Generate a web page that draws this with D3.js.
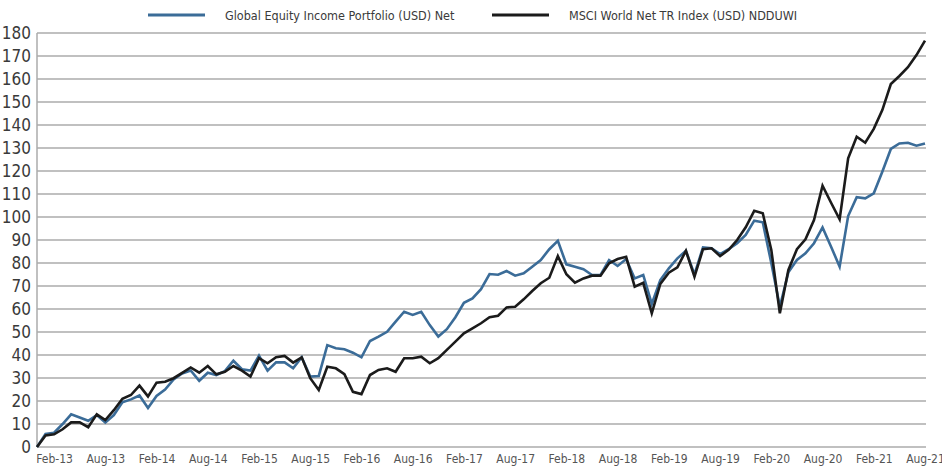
<!DOCTYPE html>
<html>
<head>
<meta charset="utf-8">
<script src="https://cdn.jsdelivr.net/npm/d3@7"></script>
<style>
  body { margin: 0; background: #fff; }
  svg text { font-family: "Liberation Sans Narrow", "DejaVu Sans Condensed", "Roboto", sans-serif; }
</style>
</head>
<body>
<div id="chart"></div>
<script>
// month categories, Dec-12 .. Aug-21
const months = d3.timeMonth.range(new Date(2012, 11, 1), new Date(2021, 8, 1))
    .map(d3.timeFormat("%b-%y"));

// Global Equity Income Portfolio (USD) Net
const portfolio = [
  0, 5.7, 6.2, 10, 14.2, 12.8, 11.4, 13.9, 10.6, 13.9,
  19.4, 20.7, 22.4, 17, 22.2, 25, 29.4, 32, 33.3, 28.8,
  32.3, 31.3, 33, 37.5, 33.8, 33.2, 39.7, 33.2, 36.8, 36.8,
  34.2, 39, 30.6, 30.9, 44.3, 42.9, 42.5, 41, 39, 46.1,
  48, 50.1, 54.5, 58.8, 57.4, 58.8, 53, 48, 51.2, 56.4,
  62.7, 64.6, 68.6, 75.2, 74.9, 76.5, 74.5, 75.5, 78.4, 81.3,
  86, 89.6, 79.4, 78.4, 77.3, 74.8, 74.8, 81.3, 78.7, 81.7,
  73.3, 74.8, 62.2, 72.6, 77.7, 82, 85.3, 75, 86.8, 86.4,
  83.9, 86, 88.6, 92.2, 98.4, 97.7, 80, 61, 76, 81.3,
  84.2, 88.6, 95.5, 87.1, 78.4, 100.4, 108.6, 108.1, 110.3, 119.7,
  129.6, 132, 132.3, 131, 132
];

// MSCI World Net TR Index (USD) NDDUWI
const msci = [
  0, 5, 5.5, 7.7, 10.7, 10.7, 8.6, 14.2, 11.7, 16,
  21, 22.6, 26.7, 22, 28, 28.4, 29.9, 32.2, 34.6, 32.3,
  35.2, 31.6, 32.7, 35.2, 33.2, 30.6, 38.6, 36.4, 39, 39.6,
  36.7, 39, 29.9, 24.8, 34.9, 34.2, 31.7, 24, 23, 31.3,
  33.5, 34.2, 32.7, 38.6, 38.6, 39.3, 36.4, 38.6, 42.2, 45.8,
  49.4, 51.6, 53.8, 56.4, 57.1, 60.7, 61, 64.2, 67.8, 71.2,
  73.6, 83, 75.1, 71.4, 73.3, 74.5, 74.5, 79.9, 81.7, 82.7,
  69.7, 71.4, 58.1, 70.9, 75.8, 78.1, 85.3, 74, 86, 86.4,
  83, 85.7, 90, 95.5, 102.7, 101.6, 85.7, 58.1, 77, 86,
  90.3, 98.7, 113.6, 106.2, 99, 125.5, 134.9, 132.3, 138.3, 146.5,
  157.8, 161.3, 165.1, 170.4, 176.7
];

const yTicks = d3.range(0, 181, 10);
const xTickLabels = ["Feb-13", "Aug-13", "Feb-14", "Aug-14", "Feb-15", "Aug-15", "Feb-16", "Aug-16",
    "Feb-17", "Aug-17", "Feb-18", "Aug-18", "Feb-19", "Aug-19", "Feb-20", "Aug-20", "Feb-21", "Aug-21"];

const seriesNames = ["Global Equity Income Portfolio (USD) Net", "MSCI World Net TR Index (USD) NDDUWI"];
const seriesColors = ["#3b6c98", "#1b1b1b"];

// set the dimensions and margins of the graph
const margin = {top: 33, right: 17, bottom: 21, left: 37},
    width = 942 - margin.left - margin.right,
    height = 468 - margin.top - margin.bottom;

const svg = d3.select("#chart")
    .append("svg")
        .attr("width", 942)
        .attr("height", 468)
    .append("g")
        .attr("transform", `translate(${margin.left}, ${margin.top})`);

const x = d3.scalePoint()
    .domain(months)
    .range([0, width]);

const y = d3.scaleLinear()
    .domain([0, 180])
    .range([height, 0]);

// horizontal gridlines
svg.selectAll(".grid")
    .data(yTicks)
    .join("line")
    .attr("class", "grid")
    .attr("x1", 0)
    .attr("x2", width + 1)
    .attr("y1", d => y(d))
    .attr("y2", d => y(d))
    .attr("stroke", "#ababab")
    .attr("stroke-width", 1.5);

// y axis line
svg.append("line")
    .attr("x1", 0).attr("x2", 0)
    .attr("y1", y(180)).attr("y2", y(0))
    .attr("stroke", "#ababab")
    .attr("stroke-width", 1.5);

// y axis labels
const yAxis = svg.append("g")
    .call(d3.axisLeft(y).tickValues(yTicks).tickSize(0).tickPadding(6));
yAxis.select(".domain").remove();
yAxis.selectAll("text")
    .style("font-size", "17px")
    .attr("fill", "#3a3a3a");

// x axis labels
const xAxis = svg.append("g")
    .attr("transform", `translate(0, ${height})`)
    .call(d3.axisBottom(x).tickValues(xTickLabels).tickSize(0).tickPadding(7));
xAxis.select(".domain").remove();
xAxis.selectAll("text")
    .style("font-size", "12px")
    .attr("fill", "#555");

// lines
const line = d3.line()
    .x((d, i) => x(months[i]))
    .y(d => y(d));

[portfolio, msci].forEach((values, k) => {
    svg.append("path")
        .datum(values)
        .attr("fill", "none")
        .attr("stroke", seriesColors[k])
        .attr("stroke-width", 2.6)
        .attr("stroke-linejoin", "miter")
        .attr("d", line);
});

// legend
const legend = d3.select("svg").append("g");
const legendX = [148, 492];
seriesNames.forEach((name, k) => {
    legend.append("line")
        .attr("x1", legendX[k]).attr("x2", legendX[k] + 57)
        .attr("y1", 15).attr("y2", 15)
        .attr("stroke", seriesColors[k])
        .attr("stroke-width", 3);
    legend.append("text")
        .attr("x", legendX[k] + 77)
        .attr("y", 20)
        .style("font-size", "12.5px")
        .attr("fill", "#3a3a3a")
        .text(name);
});
</script>
</body>
</html>
